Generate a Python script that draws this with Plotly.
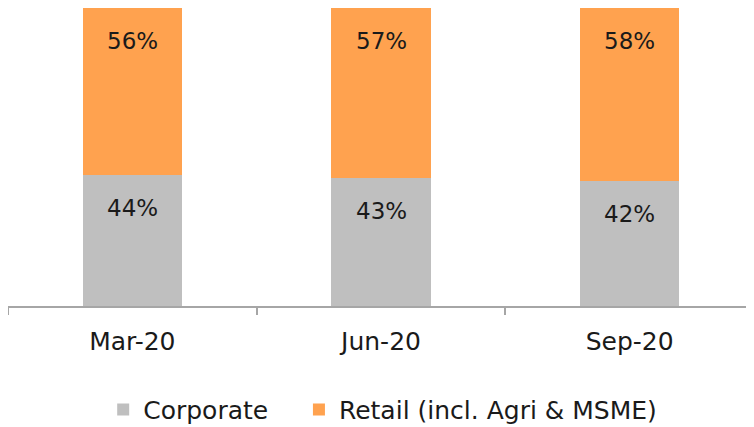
import plotly.graph_objects as go

categories = ["Mar-20", "Jun-20", "Sep-20"]
corporate = [44, 43, 42]
retail = [56, 57, 58]

GREY = "#BFBFBF"
ORANGE = "#FFA24F"
FONT = "DejaVu Sans"
FS_LBL = 23
FS = 25

fig = go.Figure()
fig.add_trace(go.Bar(x=categories, y=corporate, name="Corporate", legend="legend",
                     marker=dict(color=GREY, line=dict(width=0)), width=0.4))
fig.add_trace(go.Bar(x=categories, y=retail, name="Retail (incl. Agri & MSME)", legend="legend2",
                     marker=dict(color=ORANGE, line=dict(width=0)), width=0.4))

# value labels near the top of each segment
for i, c in enumerate(categories):
    fig.add_annotation(x=c, y=corporate[i], text=f"{corporate[i]}%", showarrow=False,
                       yanchor="middle", yshift=-33, font=dict(family=FONT, size=FS_LBL, color="#1a1a1a"))
    fig.add_annotation(x=c, y=corporate[i] + retail[i], text=f"{retail[i]}%", showarrow=False,
                       yanchor="middle", yshift=-33, font=dict(family=FONT, size=FS_LBL, color="#1a1a1a"))

leg_common = dict(orientation="h", y=-0.348, yanchor="middle", xanchor="left",
                  font=dict(family=FONT, size=FS, color="#1a1a1a"), bgcolor="rgba(0,0,0,0)")

fig.update_layout(
    barmode="stack",
    width=746, height=419,
    margin=dict(l=0, r=0, t=0, b=121, autoexpand=False),
    plot_bgcolor="white", paper_bgcolor="white",
    font=dict(family=FONT, size=FS, color="#1a1a1a"),
    showlegend=True,
    legend=dict(x=0.1276, **leg_common),
    legend2=dict(x=0.390, **leg_common),
    xaxis=dict(type="category", range=[-0.5, 2.5], showline=True, linecolor="#A6A6A6", linewidth=1.5,
               ticks="outside", tickson="boundaries", ticklen=7, tickcolor="#A6A6A6", tickwidth=1.5,
               ticklabelstandoff=12,
               showgrid=False, tickfont=dict(family=FONT, size=FS, color="#1a1a1a")),
    yaxis=dict(range=[0, 100], visible=False, showgrid=False),
)

fig.write_html("out.html")
